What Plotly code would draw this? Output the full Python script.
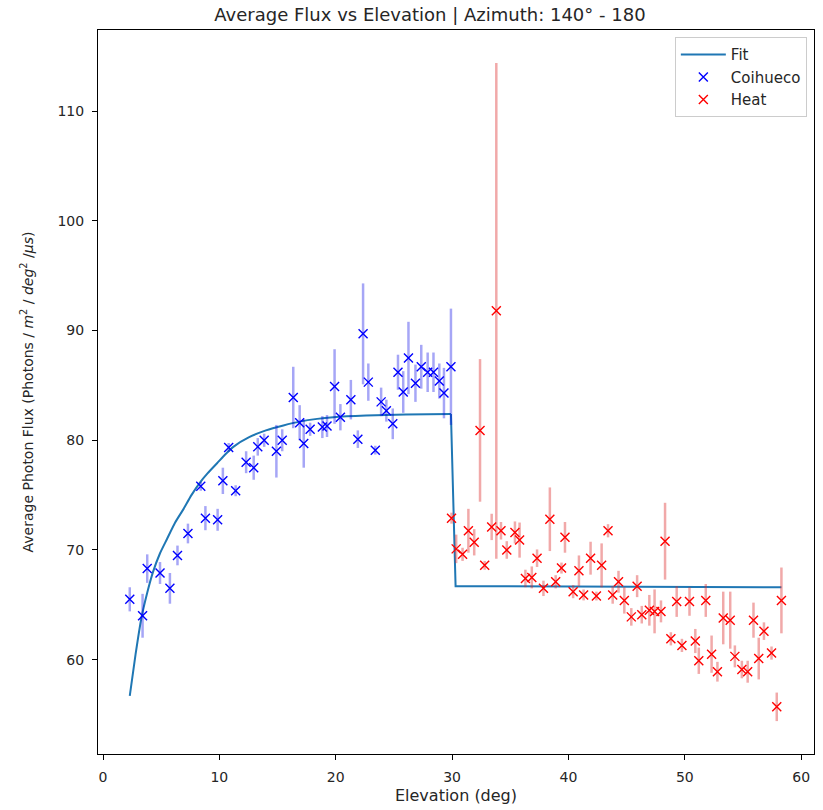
import plotly.graph_objects as go

# ---- data ----
coi_x = [2.3, 3.4, 3.8, 4.9, 5.75, 6.4, 7.3, 8.4, 8.8, 9.85, 10.3, 10.8, 11.4, 12.3, 12.95,
         13.3, 13.85, 14.9, 15.4, 16.35, 16.9, 17.25, 17.8, 18.85, 19.25, 19.9, 20.4, 21.3,
         21.9, 22.35, 22.8, 23.4, 23.9, 24.35, 24.9, 25.35, 25.8, 26.25, 26.85, 27.35, 27.9,
         28.4, 28.9, 29.3, 29.9]
coi_y = [65.5, 64.0, 68.3, 67.9, 66.5, 69.5, 71.5, 75.8, 72.9, 72.75, 76.3, 79.35, 75.4, 78.0,
         77.5, 79.4, 80.0, 79.0, 80.0, 83.9, 81.6, 79.7, 81.0, 81.2, 81.3, 84.9, 82.1, 83.7,
         80.1, 89.7, 85.3, 79.1, 83.5, 82.7, 81.5, 86.2, 84.4, 87.5, 85.2, 86.7, 86.2, 86.2,
         85.4, 84.3, 86.7]
coi_err = [1.1, 2.0, 1.3, 1.0, 1.4, 0.9, 0.9, 0.4, 1.1, 1.0, 1.2, 0.4, 0.5, 1.0, 1.1, 0.8,
           0.6, 2.4, 1.0, 2.8, 1.6, 2.2, 0.6, 1.0, 1.0, 3.4, 1.2, 1.8, 0.8, 4.6, 1.7, 0.4,
           1.3, 1.0, 1.4, 1.6, 1.9, 3.3, 1.7, 2.0, 1.8, 1.8, 1.6, 2.3, 5.3]

heat_x = [29.95, 30.35, 30.9, 31.4, 31.9, 32.4, 32.8, 33.4, 33.8, 34.2, 34.7, 35.4, 35.8,
          36.3, 36.85, 37.3, 37.85, 38.4, 38.9, 39.4, 39.7, 40.4, 40.9, 41.3, 41.9, 42.4,
          42.85, 43.4, 43.8, 44.3, 44.8, 45.4, 45.9, 46.3, 46.95, 47.4, 47.95, 48.3, 48.8,
          49.3, 49.75, 50.4, 50.9, 51.2, 51.8, 52.3, 52.8, 53.3, 53.9, 54.3, 54.9, 55.4,
          55.9, 56.35, 56.8, 57.45, 57.9, 58.3]
heat_y = [72.9, 70.1, 69.6, 71.75, 70.7, 80.9, 68.6, 72.1, 91.8, 71.75, 70.0, 71.6, 70.9,
          67.4, 67.5, 69.25, 66.5, 72.8, 67.1, 68.35, 71.15, 66.2, 68.1, 65.9, 69.25, 65.8,
          68.6, 71.75, 65.9, 67.1, 65.4, 63.9, 66.7, 64.1, 64.5, 64.4, 64.4, 70.8, 61.9,
          65.3, 61.3, 65.3, 61.7, 59.9, 65.4, 60.5, 58.9, 63.8, 63.6, 60.3, 59.1, 58.9,
          63.6, 60.1, 62.6, 60.6, 55.7, 65.4]
heat_err = [0.5, 1.3, 0.6, 2.0, 1.2, 6.5, 0.4, 1.2, 22.6, 0.8, 0.8, 1.0, 1.6, 0.8, 1.0,
            0.8, 0.7, 2.9, 0.6, 0.5, 1.4, 0.6, 1.4, 0.5, 1.5, 0.4, 2.0, 0.6, 0.8, 1.0, 1.2,
            0.8, 1.0, 0.8, 1.4, 2.0, 1.0, 3.5, 0.6, 1.4, 0.6, 1.3, 1.1, 1.2, 1.5, 1.7, 0.9,
            2.4, 2.6, 1.0, 0.8, 1.0, 1.6, 1.9, 0.8, 0.6, 1.3, 3.0]

# fit curve (rising part) and the step part
fit_curve_x = [2.3, 2.8, 3.3, 3.8, 4.3, 4.9, 5.5, 6.2, 6.9, 7.6, 8.3, 9.0, 9.8, 10.5, 11.2,
               12.6, 14.0, 15.5, 16.9, 18.4, 19.8, 22.6, 26.0, 29.9]
fit_curve_y = [56.7, 60.5, 63.8, 66.1, 68.0, 69.7, 71.0, 72.5, 73.7, 75.0, 76.1, 77.0, 77.9,
               78.7, 79.4, 80.3, 80.9, 81.35, 81.7, 81.95, 82.1, 82.25, 82.35, 82.4]
fit_step_x = [29.9, 30.3, 58.3]
fit_step_y = [82.4, 66.7, 66.6]

x_ticks = [0, 10, 20, 30, 40, 50, 60]
y_ticks = [60, 70, 80, 90, 100, 110]

FONT = "DejaVu Sans"
TXT = "#262626"

fig = go.Figure()
fig.add_trace(go.Scatter(
    x=fit_curve_x, y=fit_curve_y, mode="lines", name="Fit", legendgroup="fit",
    line=dict(color="#1f77b4", width=2, shape="spline", smoothing=0.6),
))
fig.add_trace(go.Scatter(
    x=fit_step_x, y=fit_step_y, mode="lines", name="Fit", legendgroup="fit", showlegend=False,
    line=dict(color="#1f77b4", width=2),
))
fig.add_trace(go.Scatter(
    x=coi_x, y=coi_y, mode="markers", name="Coihueco",
    marker=dict(symbol="x-thin", size=9, color="blue", line=dict(color="blue", width=1.4)),
    error_y=dict(type="data", array=coi_err, color="rgba(0,0,230,0.35)", thickness=2.5, width=0),
))
fig.add_trace(go.Scatter(
    x=heat_x, y=heat_y, mode="markers", name="Heat",
    marker=dict(symbol="x-thin", size=9, color="red", line=dict(color="red", width=1.4)),
    error_y=dict(type="data", array=heat_err, color="rgba(220,40,40,0.4)", thickness=2.5, width=0),
))

axis_common = dict(
    showline=True, linecolor="black", linewidth=1, mirror=True,
    ticks="outside", ticklen=5, tickcolor="black", ticklabelstandoff=5,
    showgrid=False, zeroline=False,
    tickfont=dict(family=FONT, size=14, color=TXT),
)

fig.update_layout(
    width=823, height=810,
    margin=dict(l=98, r=8, t=30, b=50),
    paper_bgcolor="white", plot_bgcolor="white",
    title=dict(text="Average Flux vs Elevation | Azimuth: 140° - 180",
               x=430 / 823, xanchor="center", y=1 - 15 / 810, yanchor="middle",
               font=dict(family=FONT, size=18, color=TXT)),
    xaxis=dict(range=[-0.43, 61.1], tickvals=x_ticks,
               title=dict(text="Elevation (deg)", font=dict(family=FONT, size=16, color=TXT),
                          standoff=6),
               **axis_common),
    yaxis=dict(range=[51.4, 117.4], tickvals=y_ticks,
               title=dict(text="Average Photon Flux (Photons / <i>m</i><sup>2</sup> / <i>deg</i><sup>2</sup> /<i>μs</i>)",
                          font=dict(family=FONT, size=14, color=TXT), standoff=20),
               **axis_common),
    legend=dict(x=0.99, y=0.99, xanchor="right", yanchor="top",
                bgcolor="white", bordercolor="#cccccc", borderwidth=1, tracegroupgap=0,
                itemwidth=45,
                font=dict(family=FONT, size=15, color=TXT)),
    showlegend=True,
)

fig.write_html("out.html")
